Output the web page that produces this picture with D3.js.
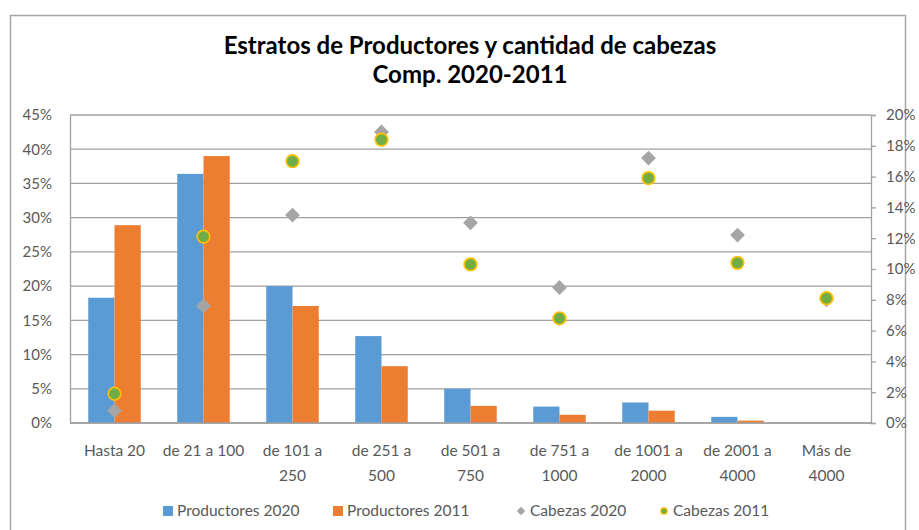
<!DOCTYPE html>
<html>
<head>
<meta charset="utf-8">
<script src="https://cdn.jsdelivr.net/npm/d3@7"></script>
<style>
  body { margin: 0; background: #fff; }
  text { font-family: Lato, "Open Sans", sans-serif; }
</style>
</head>
<body>
<svg id="chart" width="919" height="530"></svg>
<script>
// ---- data ----
var categories = ["Hasta 20", "de 21 a 100", "de 101 a 250", "de 251 a 500", "de 501 a 750",
                  "de 751 a 1000", "de 1001 a 2000", "de 2001 a 4000", "Más de 4000"]
var catLines = [["Hasta 20"], ["de 21 a 100"], ["de 101 a", "250"], ["de 251 a", "500"], ["de 501 a", "750"],
                ["de 751 a", "1000"], ["de 1001 a", "2000"], ["de 2001 a", "4000"], ["Más de", "4000"]]
var prod2020 = [18.3, 36.4, 20.0, 12.7, 5.0, 2.4, 3.0, 0.9, 0]
var prod2011 = [28.9, 39.0, 17.1, 8.3, 2.5, 1.2, 1.8, 0.35, 0]
var cab2020 = [0.8, 7.6, 13.5, 18.9, 13.0, 8.8, 17.2, 12.2, 8.0]
var cab2011 = [1.9, 12.1, 17.0, 18.4, 10.3, 6.8, 15.9, 10.4, 8.1]
var leftTicks = [0, 5, 10, 15, 20, 25, 30, 35, 40, 45]
var rightTicks = [0, 2, 4, 6, 8, 10, 12, 14, 16, 18, 20]
var seriesNames = ["Productores 2020", "Productores 2011", "Cabezas 2020", "Cabezas 2011"]

var svg = d3.select("#chart")
var plotLeft = 70, plotRight = 871, plotTop = 115, plotBottom = 423

// chart border
svg.append("rect")
  .attr("x", 10.5).attr("y", 15.5)
  .attr("width", 895).attr("height", 560)
  .attr("fill", "none")
  .attr("stroke", "#a6a6a6")
  .attr("stroke-width", 1.5)

// ---- title ----
svg.append("text")
  .attr("x", 470).attr("y", 54)
  .attr("text-anchor", "middle")
  .style("font-size", "24px")
  .style("font-weight", "bold")
  .style("fill", "#000")
  .text("Estratos de Productores y cantidad de cabezas")
svg.append("text")
  .attr("x", 470).attr("y", 83)
  .attr("text-anchor", "middle")
  .style("font-size", "24px")
  .style("font-weight", "bold")
  .style("fill", "#000")
  .text("Comp. 2020-2011")

// ---- scales ----
var x0 = d3.scaleBand().domain(categories).range([plotLeft, plotRight])
  .paddingInner(0.41).paddingOuter(0.205)
var x1 = d3.scaleBand().domain([0, 1]).range([0, x0.bandwidth()])
var yL = d3.scaleLinear().domain([0, 45]).range([plotBottom, plotTop])
var yR = d3.scaleLinear().domain([0, 20]).range([plotBottom, plotTop])

// gridlines
svg.append("g")
  .selectAll("line")
  .data(leftTicks)
  .join("line")
  .attr("x1", plotLeft).attr("x2", plotRight)
  .attr("y1", d => yL(d)).attr("y2", d => yL(d))
  .attr("stroke", "#a0a0a0")
  .attr("stroke-width", 1.3)

// left axis
var axL = svg.append("g")
  .attr("transform", "translate(" + plotLeft + ",0)")
  .call(d3.axisLeft(yL).tickValues(leftTicks).tickSize(0).tickPadding(18).tickFormat(d => d + "%"))
axL.select(".domain").attr("stroke", "#a0a0a0").attr("stroke-width", 1.3)
axL.selectAll("text").style("font-size", "15px").style("fill", "#595959")
  .style("font-family", "Lato, sans-serif")

// right axis
var axR = svg.append("g")
  .attr("transform", "translate(" + plotRight + ",0)")
  .call(d3.axisRight(yR).tickValues(rightTicks).tickSize(5).tickPadding(10).tickFormat(d => d + "%"))
axR.select(".domain").attr("stroke", "#a0a0a0").attr("stroke-width", 1.3)
axR.selectAll("line").attr("stroke", "#a0a0a0").attr("stroke-width", 1.3)
axR.selectAll("text").style("font-size", "15px").style("fill", "#595959")
  .style("font-family", "Lato, sans-serif")

// ---- bars ----
var barColors = ["#5b9bd5", "#ed7d31"]
;[prod2020, prod2011].forEach(function (vals, s) {
  svg.append("g")
    .selectAll("rect")
    .data(vals)
    .join("rect")
    .attr("x", (d, i) => x0(categories[i]) + x1(s))
    .attr("y", d => yL(d))
    .attr("width", x1.bandwidth())
    .attr("height", d => plotBottom - yL(d))
    .attr("fill", barColors[s])
})

// x axis baseline
svg.append("line")
  .attr("x1", plotLeft).attr("x2", plotRight)
  .attr("y1", plotBottom).attr("y2", plotBottom)
  .attr("stroke", "#a0a0a0")
  .attr("stroke-width", 1.3)

// ---- markers ----
var cx = i => x0(categories[i]) + x0.bandwidth() / 2
var diamond = d3.symbol().type(d3.symbolDiamond2).size(140)

svg.append("g")
  .selectAll("path")
  .data(cab2020)
  .join("path")
  .attr("d", diamond)
  .attr("transform", (d, i) => "translate(" + cx(i) + "," + yR(d) + ")")
  .attr("fill", "#a5a5a5")

svg.append("g")
  .selectAll("circle")
  .data(cab2011)
  .join("circle")
  .attr("cx", (d, i) => cx(i))
  .attr("cy", d => yR(d))
  .attr("r", 6.3)
  .attr("fill", "#70ad47")
  .attr("stroke", "#ffc000")
  .attr("stroke-width", 1.7)

// ---- category labels ----
var lab = svg.append("g")
  .selectAll("text")
  .data(catLines)
  .join("text")
  .attr("x", (d, i) => cx(i))
  .attr("y", 456)
  .attr("text-anchor", "middle")
  .style("font-size", "15.5px")
  .style("fill", "#595959")
lab.selectAll("tspan")
  .data(d => d)
  .join("tspan")
  .attr("x", function () { return d3.select(this.parentNode).attr("x") })
  .attr("dy", (d, j) => j === 0 ? 0 : 25)
  .text(d => d)

// ---- legend ----
var legendX = [163, 333, 516, 659]
var legend = svg.append("g")
legendX.forEach(function (lx, k) {
  var ly = 511
  if (k < 2) {
    legend.append("rect")
      .attr("x", lx).attr("y", ly - 5)
      .attr("width", 10).attr("height", 10)
      .attr("fill", barColors[k])
  } else if (k === 2) {
    legend.append("path")
      .attr("d", d3.symbol().type(d3.symbolDiamond2).size(45))
      .attr("transform", "translate(" + (lx + 5) + "," + ly + ")")
      .attr("fill", "#a5a5a5")
  } else {
    legend.append("circle")
      .attr("cx", lx + 5).attr("cy", ly)
      .attr("r", 3.2)
      .attr("fill", "#70ad47")
      .attr("stroke", "#ffc000")
      .attr("stroke-width", 1.3)
  }
  legend.append("text")
    .attr("x", lx + 14).attr("y", ly + 5)
    .style("font-size", "15.5px")
    .style("fill", "#595959")
    .text(seriesNames[k])
})
</script>
</body>
</html>
